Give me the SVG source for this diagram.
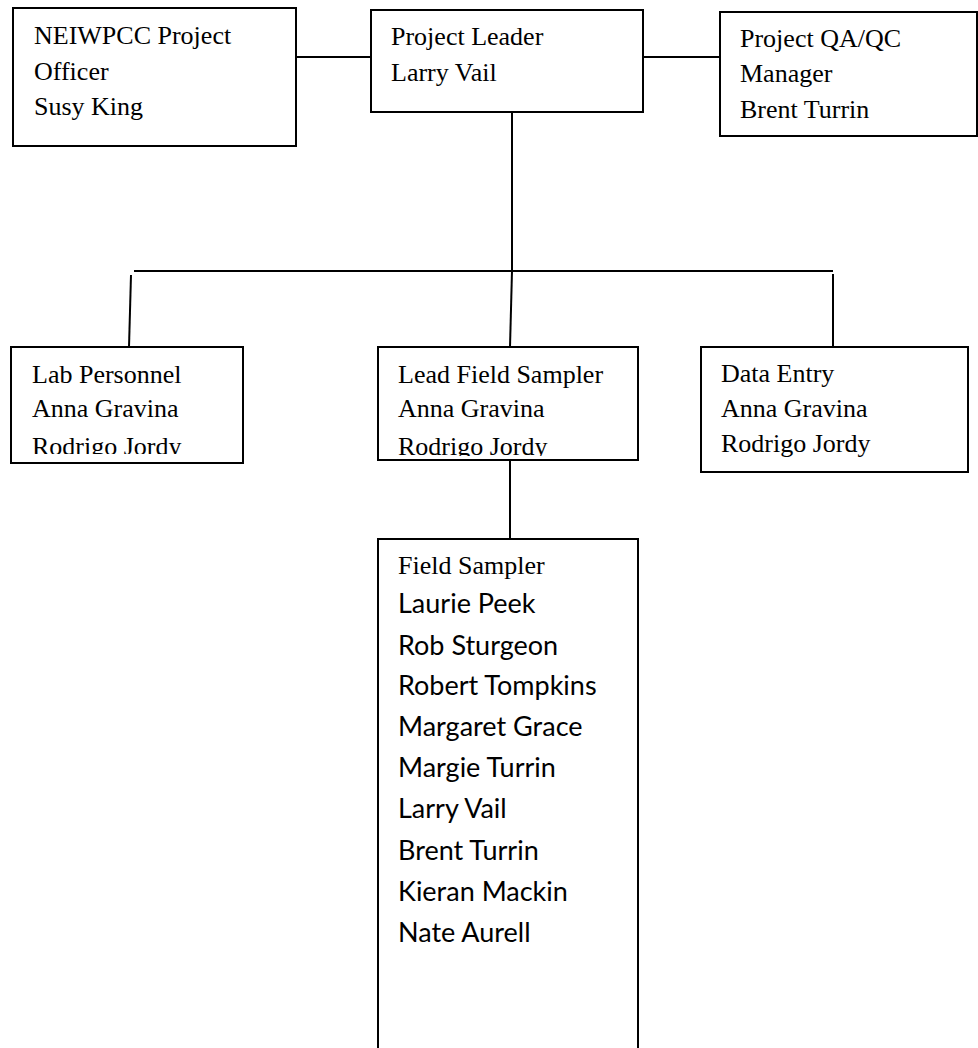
<svg xmlns="http://www.w3.org/2000/svg" width="978" height="1048" viewBox="0 0 978 1048">
<style>
.box{fill:#fff;stroke:#000;stroke-width:2}
.ln{stroke:#000;stroke-width:2;fill:none}
.t{font-family:"Liberation Serif","Times New Roman",serif;font-size:26px;fill:#000}
.c{font-family:Lato,"Open Sans",sans-serif;font-size:27px;fill:#000}
</style>
<defs>
<clipPath id="clipLab"><rect x="12" y="348" width="230" height="106"/></clipPath>
<clipPath id="clipLead"><rect x="379" y="348" width="258" height="108"/></clipPath>
</defs>
<rect width="978" height="1048" fill="#fff"/>
<g id="connectors">
<line class="ln" x1="296" y1="57" x2="371" y2="57"/>
<line class="ln" x1="643" y1="57" x2="720" y2="57"/>
<line class="ln" x1="512" y1="112" x2="512" y2="271"/>
<line class="ln" x1="134" y1="271" x2="833" y2="271"/>
<line class="ln" x1="131" y1="275" x2="129" y2="347"/>
<line class="ln" x1="512" y1="271" x2="510" y2="347"/>
<line class="ln" x1="833" y1="274" x2="833" y2="347"/>
<line class="ln" x1="510" y1="460" x2="510" y2="539"/>
</g>
<g id="n-officer">
<rect class="box" x="13" y="8" width="283" height="138"/>
<text class="t" x="34" y="44">NEIWPCC Project</text>
<text class="t" x="34" y="80">Officer</text>
<text class="t" x="34" y="115">Susy King</text>
</g>
<g id="n-leader">
<rect class="box" x="371" y="10" width="272" height="102"/>
<text class="t" x="391" y="45">Project Leader</text>
<text class="t" x="391" y="81">Larry Vail</text>
</g>
<g id="n-qaqc">
<rect class="box" x="720" y="12" width="257" height="124"/>
<text class="t" x="740" y="47">Project QA/QC</text>
<text class="t" x="740" y="82">Manager</text>
<text class="t" x="740" y="118">Brent Turrin</text>
</g>
<g id="n-lab">
<rect class="box" x="11" y="347" width="232" height="116"/>
<g clip-path="url(#clipLab)">
<text class="t" x="32" y="383">Lab Personnel</text>
<text class="t" x="32" y="417">Anna Gravina</text>
<text class="t" x="32" y="455">Rodrigo Jordy</text>
</g>
</g>
<g id="n-lead">
<rect class="box" x="378" y="347" width="260" height="113"/>
<g clip-path="url(#clipLead)">
<text class="t" x="398" y="383">Lead Field Sampler</text>
<text class="t" x="398" y="417">Anna Gravina</text>
<text class="t" x="398" y="455">Rodrigo Jordy</text>
</g>
</g>
<g id="n-data">
<rect class="box" x="701" y="347" width="267" height="125"/>
<text class="t" x="721" y="382">Data Entry</text>
<text class="t" x="721" y="417">Anna Gravina</text>
<text class="t" x="721" y="452">Rodrigo Jordy</text>
</g>
<g id="n-field">
<rect class="box" x="378" y="539" width="260" height="530"/>
<text class="t" x="398" y="574">Field Sampler</text>
<text class="c" x="398" y="613">Laurie Peek</text>
<text class="c" x="398" y="655">Rob Sturgeon</text>
<text class="c" x="398" y="695">Robert Tompkins</text>
<text class="c" x="398" y="736">Margaret Grace</text>
<text class="c" x="398" y="777">Margie Turrin</text>
<text class="c" x="398" y="818">Larry Vail</text>
<text class="c" x="398" y="860">Brent Turrin</text>
<text class="c" x="398" y="901">Kieran Mackin</text>
<text class="c" x="398" y="942">Nate Aurell</text>
</g>
</svg>
